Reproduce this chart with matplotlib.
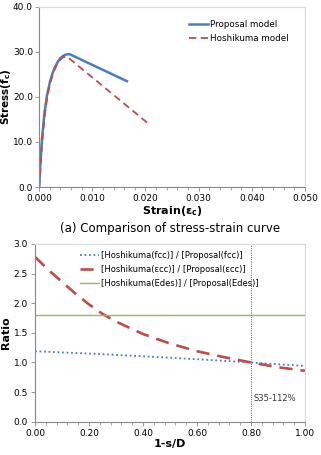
import numpy as np
import matplotlib.pyplot as plt
from matplotlib.ticker import MultipleLocator, FormatStrFormatter

# stress-strain data
prop_strain = [0, 0.0002, 0.0005, 0.001, 0.0015, 0.002, 0.0025, 0.003, 0.0035, 0.004, 0.0045, 0.005, 0.0057, 0.0165]
prop_stress = [0, 4.5, 10.2, 16.5, 20.5, 23.2, 25.2, 26.7, 27.8, 28.6, 29.1, 29.4, 29.5, 23.5]
hosh_strain = [0, 0.0002, 0.0005, 0.001, 0.0015, 0.002, 0.0025, 0.003, 0.0035, 0.004, 0.0045, 0.0052, 0.0203]
hosh_stress = [0, 3.8, 9.0, 15.5, 19.8, 22.7, 24.8, 26.4, 27.5, 28.3, 28.8, 29.0, 14.3]

# ratio data
sd = [0.0, 0.05, 0.1, 0.15, 0.2, 0.25, 0.3, 0.4, 0.5, 0.6, 0.7, 0.8, 0.9, 1.0]
ratio_fcc = [1.19, 1.18, 1.17, 1.16, 1.15, 1.14, 1.128, 1.105, 1.08, 1.055, 1.028, 1.0, 0.97, 0.94]
ratio_ecc = [2.78, 2.56, 2.36, 2.16, 1.98, 1.82, 1.69, 1.48, 1.32, 1.19, 1.09, 1.00, 0.92, 0.86]
ratio_edes = [1.8] * len(sd)
mark_x = 0.80
mark_label = 'S35-112%'

blue = '#4a7ebb'
red = '#be4b48'
green = '#98b954'

fig = plt.figure(figsize=(3.21, 4.55), dpi=100)
ax1 = fig.add_axes([0.122, 0.589, 0.828, 0.396])
ax2 = fig.add_axes([0.109, 0.073, 0.841, 0.391])

for ax in (ax1, ax2):
    for s in ('left', 'bottom'):
        ax.spines[s].set_color('#888888')
        ax.spines[s].set_linewidth(0.8)
    for s in ('top', 'right'):
        ax.spines[s].set_color('#d9d9d9')
        ax.spines[s].set_linewidth(0.8)
    ax.tick_params(labelsize=6.5, length=3, width=0.6, color='#888888', pad=2)
    ax.tick_params(which='minor', length=2, width=0.5, color='#888888')

# top chart
ax1.plot(prop_strain, prop_stress, color=blue, lw=1.8, label='Proposal model')
ax1.plot(hosh_strain, hosh_stress, color=red, lw=1.3, ls=(0, (4, 2.5)), label='Hoshikuma model')
ax1.set_xlim(0, 0.05)
ax1.set_ylim(0, 40)
ax1.xaxis.set_major_locator(MultipleLocator(0.01))
ax1.xaxis.set_minor_locator(MultipleLocator(0.002))
ax1.yaxis.set_major_locator(MultipleLocator(10))
ax1.tick_params(axis='y', pad=1.5)
ax1.xaxis.set_major_formatter(FormatStrFormatter('%.3f'))
ax1.yaxis.set_major_formatter(FormatStrFormatter('%.1f'))
ax1.set_xlabel(r'Strain($\mathbf{\varepsilon_c}$)', fontsize=8, fontweight='bold', labelpad=1)
ax1.set_ylabel(r"Stress($\mathbf{f_c}$)", fontsize=7.5, fontweight='bold')
ax1.yaxis.set_label_coords(-0.1, 0.5)
ax1.legend(loc='upper right', bbox_to_anchor=(0.97, 0.97), frameon=False, fontsize=6.3,
           handlelength=2.2, handletextpad=0.3, labelspacing=0.6)

fig.text(0.53, 0.497, '(a) Comparison of stress-strain curve', ha='center', va='center', fontsize=8.5)

# bottom chart
ax2.plot(sd, ratio_fcc, color=blue, lw=1.3, ls=(0, (1, 1.5)), label='[Hoshikuma(fcc)] / [Proposal(fcc)]')
ax2.plot(sd, ratio_ecc, color=red, lw=1.9, ls=(0, (5, 3)), label='[Hoshikuma(εcc)] / [Proposal(εcc)]')
ax2.plot(sd, ratio_edes, color=green, lw=1.0, label='[Hoshikuma(Edes)] / [Proposal(Edes)]')
ax2.axvline(mark_x, color=blue, lw=0.8, ls=(0, (1, 1)))
ax2.text(mark_x + 0.01, 0.4, mark_label, fontsize=6, color='#333333', va='center')
ax2.set_xlim(0, 1.0)
ax2.set_ylim(0, 3.0)
ax2.xaxis.set_major_locator(MultipleLocator(0.2))
ax2.xaxis.set_minor_locator(MultipleLocator(0.04))
ax2.yaxis.set_major_locator(MultipleLocator(0.5))
ax2.xaxis.set_major_formatter(FormatStrFormatter('%.2f'))
ax2.yaxis.set_major_formatter(FormatStrFormatter('%.1f'))
ax2.set_xlabel('1-s/D', fontsize=8, fontweight='bold', labelpad=1)
ax2.set_ylabel('Ratio', fontsize=8, fontweight='bold', labelpad=2)
ax2.legend(loc='upper left', bbox_to_anchor=(0.14, 1.0), frameon=False, fontsize=6,
           handlelength=2.2, handletextpad=0.3, labelspacing=0.6)

fig.savefig('out.png', dpi=100)
